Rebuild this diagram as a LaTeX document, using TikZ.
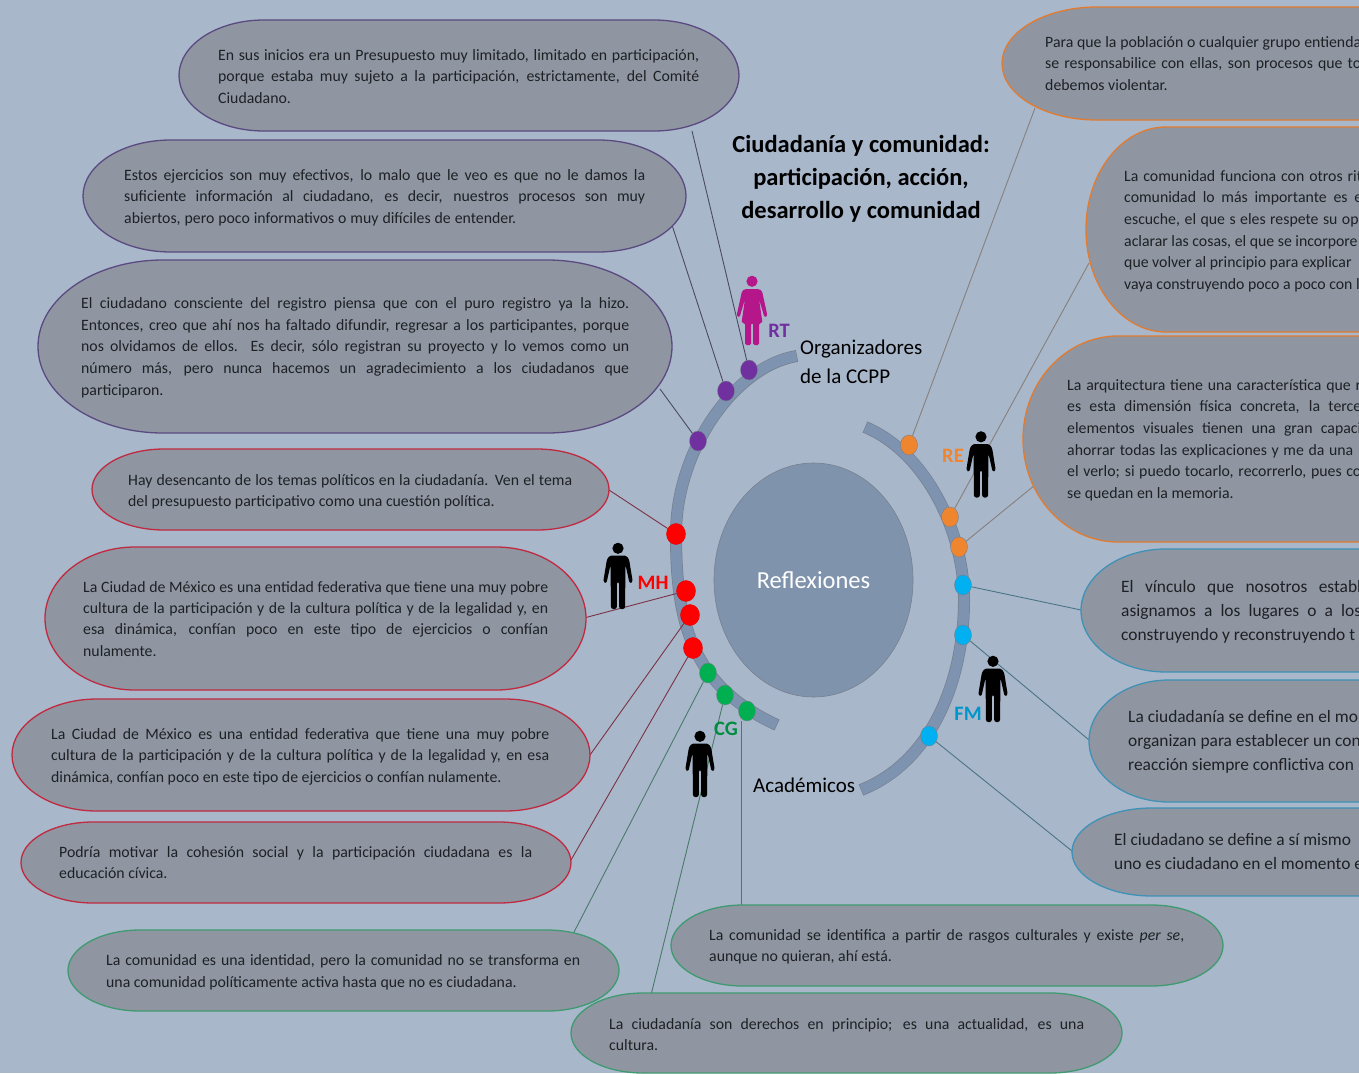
\documentclass[tikz,border=0pt]{standalone}
\usepackage{fontspec}
\setmainfont{Carlito}
\usetikzlibrary{shapes.geometric}
\definecolor{bgc}{HTML}{A9B7CB}
\definecolor{boxc}{HTML}{8F96A2}
\definecolor{hubc}{HTML}{7F93AD}
\definecolor{arcc}{HTML}{7D93B0}
\definecolor{edgec}{HTML}{77808E}
\definecolor{cpur}{HTML}{5A4A80}
\definecolor{cred}{HTML}{C02A40}
\definecolor{cgrn}{HTML}{3F9A70}
\definecolor{cora}{HTML}{E07B30}
\definecolor{cblu}{HTML}{3F92B5}
\definecolor{lpur}{HTML}{4C4A62}
\definecolor{lred}{HTML}{7A3345}
\definecolor{lgrn}{HTML}{4A7A68}
\definecolor{lora}{HTML}{85807C}
\definecolor{lblu}{HTML}{4A7585}
\definecolor{dpur}{HTML}{7030A0}
\definecolor{dred}{HTML}{FF0000}
\definecolor{dgrn}{HTML}{00B050}
\definecolor{dora}{HTML}{F08530}
\definecolor{dblu}{HTML}{00B0F0}
\definecolor{txtc}{HTML}{1E2024}
\definecolor{pink}{HTML}{B5178A}
\newdimen\lnh
\newcommand\st{\vrule width 0pt height .7\lnh depth .3\lnh}
\newcommand\JL[2]{\hbox to #1pt{\st #2}}
\newcommand\NL[1]{\hbox{\st #1}}
\newcommand\blk[2]{\lnh=#1pt\vbox{\offinterlineskip #2}}
\newcommand\capsule[6]{%
  \pgfmathsetmacro\xa{#2}\pgfmathsetmacro\xb{#4}%
  \pgfmathsetmacro\ya{#3}\pgfmathsetmacro\yb{#5}%
  \pgfmathsetmacro\ym{(\ya+\yb)/2}\pgfmathsetmacro\ry{(\yb-\ya)/2}%
  \pgfmathsetmacro\rx{#6}\pgfmathsetmacro\kx{.5523*\rx}\pgfmathsetmacro\ky{.5523*\ry}%
  \filldraw[capbox,draw=#1] (\xa+\rx,\ya) -- (\xb-\rx,\ya)
    .. controls (\xb-\rx+\kx,\ya) and (\xb,\ym-\ky) .. (\xb,\ym)
    .. controls (\xb,\ym+\ky) and (\xb-\rx+\kx,\yb) .. (\xb-\rx,\yb)
    -- (\xa+\rx,\yb)
    .. controls (\xa+\rx-\kx,\yb) and (\xa,\ym+\ky) .. (\xa,\ym)
    .. controls (\xa,\ym-\ky) and (\xa+\rx-\kx,\ya) .. (\xa+\rx,\ya) -- cycle;}
\newcommand\bandL{(797,356) .. controls (735,366) and (676,450) .. (676,534) .. controls (676,620) and (690,685) .. (777,725)}
\newcommand\bandR{(865,427) .. controls (925,452) and (964,530) .. (964,600) .. controls (964,680) and (932,762) .. (861,790)}
\tikzset{
  capbox/.style={fill=boxc,line width=1.3pt},
  txt/.style={anchor=west,inner sep=0pt,text=txtc,font=\fontsize{15.8}{21}\selectfont},
  txtb/.style={anchor=west,inner sep=0pt,text=txtc,font=\fontsize{17.4}{24}\selectfont},
  dot/.style={ellipse,inner sep=0pt,minimum width=17pt,minimum height=20pt,draw=edgec,line width=.4pt},
  dotr/.style={ellipse,inner sep=0pt,minimum width=19pt,minimum height=21pt,fill=dred,draw=dred!90!black,line width=.4pt},
  bandout/.style={line cap=butt,draw=edgec,line width=12pt},
  bandin/.style={line cap=butt,draw=arcc,line width=10.6pt,shorten <=.6pt,shorten >=.6pt},
  lnk/.style={line width=.9pt},
  tag/.style={inner sep=0pt,font=\fontsize{20.5}{24}\selectfont\bfseries},
  lab/.style={inner sep=0pt,text=black,font=\fontsize{21}{29}\selectfont},
  pics/man/.style={code={
    \fill (0,6.3) circle (5.6);
    \fill[rounded corners=2.2pt] (-8,13.5) -- (8,13.5) -- (11,17) -- (14.8,40) -- (11.6,41.5) -- (7.5,23) -- (7,67) -- (1.2,67) -- (1.2,40) -- (-1.2,40) -- (-1.2,67) -- (-7,67) -- (-7.5,23) -- (-11.6,41.5) -- (-14.8,40) -- (-11,17) -- cycle;}},
  pics/woman/.style={code={
    \fill (0,6.3) circle (5.6);
    \fill[rounded corners=1.5pt] (-7,14) -- (7,14) -- (10,16) -- (15.5,41) -- (12.5,42.5) -- (7,24) -- (10.5,48) -- (7,48) -- (7,70) -- (1,70) -- (1,48) -- (-1,48) -- (-1,70) -- (-7,70) -- (-7,48) -- (-10.5,48) -- (-7,24) -- (-12.5,42.5) -- (-15.5,41) -- (-10,16) -- cycle;}},
}
\begin{document}
\begin{tikzpicture}[x=1pt,y=-1pt]
\useasboundingbox (0,0) rectangle (1359,1073);
\clip (0,0) rectangle (1359,1073);
\fill[bgc] (0,0) rectangle (1359,1073);

% central ellipse
\node[ellipse,draw=edgec,fill=hubc,line width=.6pt,minimum width=199pt,minimum height=234pt,inner sep=0pt,
  text=white,font=\fontsize{24.5}{30}\selectfont] (hub) at (813.5,580) {Reflexiones};

% bands
\draw[bandout] \bandL;
\draw[bandin] \bandL;
\draw[bandout] \bandR;
\draw[bandin] \bandR;

% dots
\node[dot,fill=dpur] (p1) at (749,370) {};
\node[dot,fill=dpur] (p2) at (726,391) {};
\node[dot,fill=dpur] (p3) at (698,441) {};
\node[dotr] (r1) at (676,534) {};
\node[dotr] (r2) at (686,591) {};
\node[dotr] (r3) at (690,615) {};
\node[dotr] (r4) at (693,648) {};
\node[dot,fill=dgrn] (g1) at (708,673) {};
\node[dot,fill=dgrn] (g2) at (725,695) {};
\node[dot,fill=dgrn] (g3) at (747,711) {};
\node[dot,fill=dora] (o1) at (909,445) {};
\node[dot,fill=dora] (o2) at (950,517) {};
\node[dot,fill=dora] (o3) at (959,547) {};
\node[dot,fill=dblu] (b1) at (963,585) {};
\node[dot,fill=dblu] (b2) at (963,635) {};
\node[dot,fill=dblu] (b3) at (929,736) {};

% free ends on the capsules
\coordinate (cp1) at (692,131);
\coordinate (cp2) at (672,225);
\coordinate (cp3) at (660,389);
\coordinate (cr1) at (609,490);
\coordinate (cr2) at (584,618);
\coordinate (cr3) at (590,755);
\coordinate (cr4) at (571,860);
\coordinate (cg1) at (573,934);
\coordinate (cg2) at (651,995);
\coordinate (cg3) at (741.5,905);
\coordinate (co1) at (1035,108);
\coordinate (co2) at (1089,263);
\coordinate (co3) at (1035,485);
\coordinate (cb1) at (1081,610);
\coordinate (cb2) at (1089,740);
\coordinate (cb3) at (1072,851);

% connectors
\draw[lnk,lpur] (p1) -- (cp1);
\draw[lnk,lpur] (p2) -- (cp2);
\draw[lnk,lpur] (p3) -- (cp3);
\draw[lnk,lred] (r1) -- (cr1);
\draw[lnk,lred] (r2) -- (cr2);
\draw[lnk,lred] (r3) -- (cr3);
\draw[lnk,lred] (r4) -- (cr4);
\draw[lnk,lgrn] (g1) -- (cg1);
\draw[lnk,lgrn] (g2) -- (cg2);
\draw[lnk,lgrn] (cg3 |- g3.south) -- (cg3);
\draw[lnk,lora] (o1) -- (co1);
\draw[lnk,lora] (o2) -- (co2);
\draw[lnk,lora] (o3) -- (co3);
\draw[lnk,lblu] (b1) -- (cb1);
\draw[lnk,lblu] (b2) -- (cb2);
\draw[lnk,lblu] (b3) -- (cb3);

% capsules
\capsule{cpur}{179}{20}{739}{131}{85}
\capsule{cpur}{83}{140}{686}{252}{88}
\capsule{cpur}{38}{260}{672}{433}{125}
\capsule{cred}{92}{449}{609}{530}{72}
\capsule{cred}{45}{547}{586}{690}{90}
\capsule{cred}{12}{699}{590}{811}{85}
\capsule{cred}{21}{822}{571}{903}{72}
\capsule{cgrn}{68}{930}{619}{1011}{72}
\capsule{cgrn}{671}{905}{1223}{986}{72}
\capsule{cgrn}{571}{993}{1122}{1073}{72}
\capsule{cora}{1002}{7}{1600}{120}{95}
\capsule{cora}{1086}{127}{1600}{332}{80}
\capsule{cora}{1023}{336}{1600}{542}{95}
\capsule{cblu}{1081}{549}{1600}{672}{85}
\capsule{cblu}{1089}{680}{1600}{802}{80}
\capsule{cblu}{1072}{808}{1600}{896}{80}

% capsule texts
\node[txt] (tp1) at (218,77.5) {\blk{21.5}{%
 \JL{481}{En sus inicios era un Presupuesto muy limitado, limitado en participación,}%
 \JL{481}{porque estaba muy sujeto a la participación, estrictamente, del Comité}%
 \NL{Ciudadano.}}};
\node[txt] (tp2) at (124,197.5) {\blk{21.5}{%
 \JL{521}{Estos ejercicios son muy efectivos, lo malo que le veo es que no le damos la}%
 \JL{521}{suficiente información al ciudadano, es decir, nuestros procesos son muy}%
 \JL{392}{abiertos, pero poco informativos o muy difíciles de entender.}}};
\node[txt] (tp3) at (81,347.5) {\blk{21.6}{%
 \JL{548}{El ciudadano consciente del registro piensa que con el puro registro ya la hizo.}%
 \JL{548}{Entonces, creo que ahí nos ha faltado difundir, regresar a los participantes, porque}%
 \JL{548}{nos olvidamos de ellos. Es decir, sólo registran su proyecto y lo vemos como un}%
 \JL{548}{número más, pero nunca hacemos un agradecimiento a los ciudadanos que}%
 \NL{participaron.}}};
\node[txt] (tr1) at (128,491.5) {\blk{21.5}{%
 \JL{444}{Hay desencanto de los temas políticos en la ciudadanía. Ven el tema}%
 \NL{del presupuesto participativo como una cuestión política.}}};
\node[txt] (tr2) at (83,620) {\blk{21.4}{%
 \JL{465}{La Ciudad de México es una entidad federativa que tiene una muy pobre}%
 \JL{465}{cultura de la participación y de la cultura política y de la legalidad y, en}%
 \JL{465}{esa dinámica, confían poco en este tipo de ejercicios o confían}%
 \NL{nulamente.}}};
\node[txt] (tr3) at (51,756.5) {\blk{21.5}{%
 \JL{498}{La Ciudad de México es una entidad federativa que tiene una muy pobre}%
 \JL{498}{cultura de la participación y de la cultura política y de la legalidad y, en esa}%
 \NL{dinámica, confían poco en este tipo de ejercicios o confían nulamente.}}};
\node[txt] (tr4) at (59,863.5) {\blk{21.5}{%
 \JL{473}{Podría motivar la cohesión social y la participación ciudadana es la}%
 \NL{educación cívica.}}};
\node[txt] (tg1) at (106,972) {\blk{21.5}{%
 \JL{474}{La comunidad es una identidad, pero la comunidad no se transforma en}%
 \NL{una comunidad políticamente activa hasta que no es ciudadana.}}};
\node[txt] (tg2) at (709,946.5) {\blk{21.5}{%
 \JL{475}{La comunidad se identifica a partir de rasgos culturales y existe \textit{per se},}%
 \NL{aunque no quieran, ahí está.}}};
\node[txt] (tg3) at (609,1035.5) {\blk{21.5}{%
 \JL{475}{La ciudadanía son derechos en principio; es una actualidad, es una}%
 \NL{cultura.}}};
\node[txt] (to1) at (1045,64.5) {\blk{21.5}{%
 \JL{316}{Para que la población o cualquier grupo entienda}%
 \JL{316}{se responsabilice con ellas, son procesos que to}%
 \NL{debemos violentar.}}};
\node[txt] (to2) at (1124,231) {\blk{21.6}{%
 \JL{238}{La comunidad funciona con otros rit}%
 \JL{238}{comunidad lo más importante es e}%
 \JL{238}{escuche, el que s eles respete su opi}%
 \NL{aclarar las cosas, el que se incorpore}%
 \NL{que volver al principio para explicar}%
 \NL{vaya construyendo poco a poco con l}}};
\node[txt] (to3) at (1067,440) {\blk{21.6}{%
 \JL{294}{La arquitectura tiene una característica que r}%
 \JL{294}{es esta dimensión física concreta, la terce}%
 \JL{294}{elementos visuales tienen una gran capaci}%
 \JL{286}{ahorrar todas las explicaciones y me da una}%
 \JL{294}{el verlo; si puedo tocarlo, recorrerlo, pues co}%
 \NL{se quedan en la memoria.}}};
\node[txtb] (tb1) at (1121,612) {\blk{24}{%
 \JL{240}{El vínculo que nosotros establ}%
 \JL{240}{asignamos a los lugares o a los}%
 \NL{construyendo y reconstruyendo t}}};
\node[txtb] (tb2) at (1128,742) {\blk{24}{%
 \NL{La ciudadanía se define en el mo}%
 \NL{organizan para establecer un con}%
 \NL{reacción siempre conflictiva con}}};
\node[txtb] (tb3) at (1114,853) {\blk{24}{%
 \NL{El ciudadano se define a sí mismo}%
 \NL{uno es ciudadano en el momento e}}};

% people
\pic[fill=pink] at (752,275) {woman};
\pic[fill=black] at (981,430.5) {man};
\pic[fill=black] at (618,542) {man};
\pic[fill=black] at (993,655) {man};
\pic[fill=black] at (700,730) {man};

% tags
\node[tag,text=dpur] (trt) at (779,331) {RT};
\node[tag,text=dred] (tmh) at (653,583) {MH};
\node[tag,text=dgrn!80!black] (tcg) at (726,729) {CG};
\node[tag,text=dora] (tre) at (953,456) {RE};
\node[tag,text=dblu!85!black] (tfm) at (968,714) {FM};

% labels
\node[lab,anchor=west,align=left] (org) at (800,361.5) {Organizadores\\de la CCPP};
\node[lab,anchor=west] (aca) at (753,785.5) {Académicos};
\node[inner sep=0pt,align=center,text=black,font=\fontsize{24.5}{33}\selectfont\bfseries] (title) at (861,179) {Ciudadanía y comunidad:\\participación, acción,\\desarrollo y comunidad};
\end{tikzpicture}
\end{document}
